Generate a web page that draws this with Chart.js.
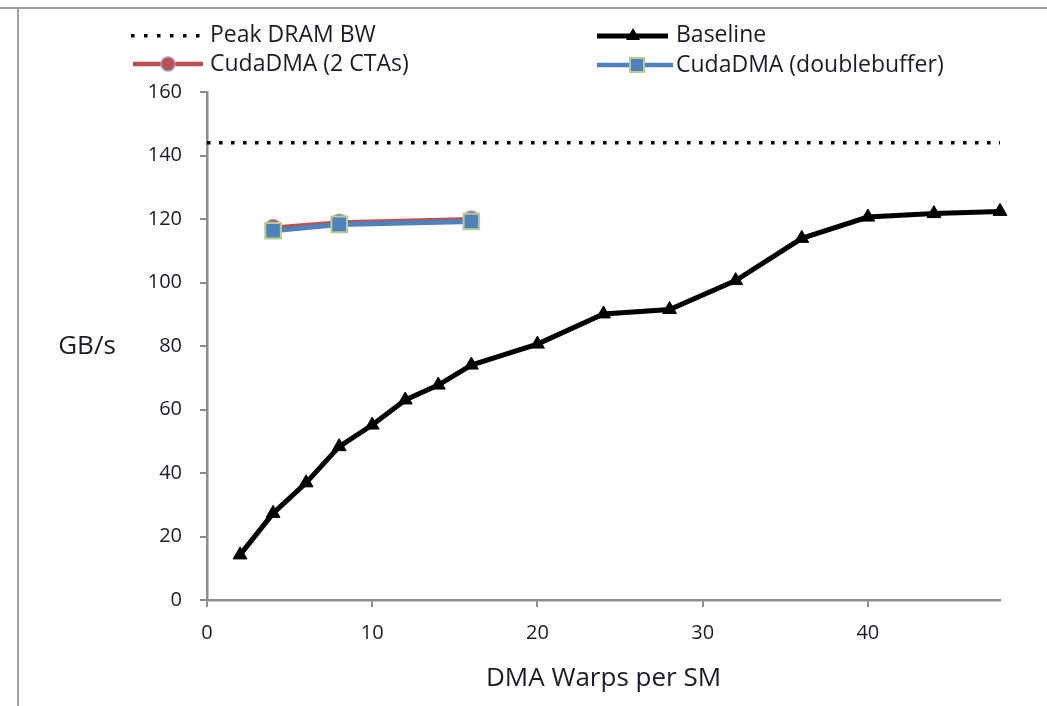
<!DOCTYPE html>
<html>
<head>
<meta charset="utf-8">
<script src="https://cdn.jsdelivr.net/npm/chart.js@4.4.0/dist/chart.umd.min.js"></script>
<style>
  body { margin: 0; background: #fff; }
  #wrap { width: 1047px; height: 706px; position: relative; }
</style>
</head>
<body>
<div id="wrap"><canvas id="myChart" width="1047" height="706"></canvas></div>
<script>
// data
const warps = [2, 4, 6, 8, 10, 12, 14, 16, 20, 24, 28, 32, 36, 40, 44, 48];
const baseline = [14.2, 27.3, 36.9, 48.3, 55.1, 63, 67.7, 74, 80.6, 90.1, 91.5, 100.6, 113.9, 120.6, 121.7, 122.4];
const dmaWarps = [4, 8, 16];
const twoCtas = [117.3, 119, 120];
const doubleBuffer = [116.3, 118.3, 119.2];
const peakX = [0, 48];
const peakBW = [144, 144];
const xTicks = [0, 10, 20, 30, 40];
const yTicks = [0, 20, 40, 60, 80, 100, 120, 140, 160];

const FONT = "'Open Sans', sans-serif";
const TEXT = "#1c1c28";
const RED = "#c0504d";
const BLUE = "#4f81bd";
const GREEN = "#b5cf8a";
const LILAC = "#8f9fd0";

const toPoints = (xs, ys) => xs.map((x, i) => ({ x: x, y: ys[i] }));

const data = {
  datasets: [
    {
      label: "Peak DRAM BW",
      data: toPoints(peakX, peakBW),
      borderColor: "#000",
      borderWidth: 3.5,
      borderDash: [3.5, 8.5],
      pointRadius: 0,
      clip: false,
      order: 3,
    },
    {
      label: "Baseline",
      data: toPoints(warps, baseline),
      borderColor: "#000",
      backgroundColor: "#000",
      borderWidth: 5,
      pointStyle: "triangle",
      pointRadius: 8,
      pointBorderWidth: 1,
      clip: false,
      order: 2,
    },
    {
      label: "CudaDMA (2 CTAs)",
      data: toPoints(dmaWarps, twoCtas),
      borderColor: RED,
      backgroundColor: RED,
      pointBorderColor: LILAC,
      borderWidth: 4,
      pointStyle: "circle",
      pointRadius: 8,
      pointBorderWidth: 1.5,
      order: 1,
    },
    {
      label: "CudaDMA (doublebuffer)",
      data: toPoints(dmaWarps, doubleBuffer),
      borderColor: BLUE,
      backgroundColor: BLUE,
      pointBorderColor: GREEN,
      borderWidth: 5,
      pointStyle: "rect",
      pointRadius: 11,
      pointBorderWidth: 2,
      order: 0,
    },
  ],
};

// legend + y title + outer frame, drawn by hand
const extras = {
  id: "extras",
  afterDraw(chart) {
    const ctx = chart.ctx;
    ctx.save();
    // frame lines of the original screenshot
    ctx.strokeStyle = "#a0a0a0";
    ctx.lineWidth = 2;
    ctx.beginPath();
    ctx.moveTo(0, 8);
    ctx.lineTo(1047, 8);
    ctx.moveTo(18, 8);
    ctx.lineTo(18, 706);
    ctx.stroke();

    ctx.font = "23px " + FONT;
    ctx.textBaseline = "middle";
    ctx.textAlign = "left";

    // row 1
    ctx.fillStyle = "#000";
    for (let i = 0; i < 6; i++) {
      ctx.fillRect(131 + i * 13, 34, 3.5, 3.5);
    }
    ctx.fillStyle = TEXT;
    ctx.fillText("Peak DRAM BW", 210, 35);

    ctx.strokeStyle = "#000";
    ctx.lineWidth = 5;
    ctx.beginPath();
    ctx.moveTo(597, 36);
    ctx.lineTo(668, 36);
    ctx.stroke();
    ctx.fillStyle = "#000";
    ctx.beginPath();
    ctx.moveTo(633, 28);
    ctx.lineTo(640, 40);
    ctx.lineTo(626, 40);
    ctx.closePath();
    ctx.fill();
    ctx.fillStyle = TEXT;
    ctx.fillText("Baseline", 676, 35);

    // row 2
    ctx.strokeStyle = RED;
    ctx.lineWidth = 4.5;
    ctx.beginPath();
    ctx.moveTo(133, 64);
    ctx.lineTo(203, 64);
    ctx.stroke();
    ctx.fillStyle = RED;
    ctx.strokeStyle = LILAC;
    ctx.lineWidth = 1.5;
    ctx.beginPath();
    ctx.arc(168, 64, 7, 0, Math.PI * 2);
    ctx.fill();
    ctx.stroke();
    ctx.fillStyle = TEXT;
    ctx.fillText("CudaDMA (2 CTAs)", 210, 64);

    ctx.strokeStyle = BLUE;
    ctx.lineWidth = 4.5;
    ctx.beginPath();
    ctx.moveTo(597, 65);
    ctx.lineTo(673, 65);
    ctx.stroke();
    ctx.fillStyle = BLUE;
    ctx.strokeStyle = GREEN;
    ctx.lineWidth = 2;
    ctx.fillRect(630, 58, 14, 14);
    ctx.strokeRect(630, 58, 14, 14);
    ctx.fillStyle = TEXT;
    ctx.fillText("CudaDMA (doublebuffer)", 676, 65);

    // y axis title, horizontal like the original
    ctx.font = "26px " + FONT;
    ctx.fillStyle = TEXT;
    ctx.textAlign = "center";
    ctx.fillText("GB/s", 87, 347);
    ctx.restore();
  },
};

const config = {
  type: "line",
  data,
  options: {
    responsive: false,
    animation: false,
    layout: { padding: { top: 92, right: 47, left: 0, bottom: 0 } },
    plugins: {
      legend: { display: false },
      tooltip: { enabled: false },
    },
    scales: {
      x: {
        type: "linear",
        min: 0,
        max: 48,
        border: { color: "#8c8c8c", width: 2.5 },
        grid: { drawOnChartArea: false, color: "#8c8c8c", tickLength: 7, lineWidth: 2 },
        afterBuildTicks: (scale) => {
          scale.ticks = xTicks.map((v) => ({ value: v }));
        },
        ticks: {
          color: TEXT,
          font: { family: FONT, size: 20 },
          padding: 14,
          maxRotation: 0,
        },
        title: {
          display: true,
          text: "DMA Warps per SM",
          color: TEXT,
          font: { family: FONT, size: 26 },
          padding: { top: 4, bottom: 12 },
        },
        afterFit: (scale) => {
          scale.height = 106;
        },
      },
      y: {
        min: 0,
        max: 160,
        border: { color: "#8c8c8c", width: 2.5 },
        grid: { drawOnChartArea: false, color: "#8c8c8c", tickLength: 7, lineWidth: 2 },
        afterBuildTicks: (scale) => {
          scale.ticks = yTicks.map((v) => ({ value: v }));
        },
        ticks: {
          color: TEXT,
          font: { family: FONT, size: 20 },
          padding: 18,
        },
        afterFit: (scale) => {
          scale.width = 207;
        },
      },
    },
  },
  plugins: [extras],
};

const myChart = new Chart(document.getElementById("myChart"), config);
</script>
</body>
</html>
